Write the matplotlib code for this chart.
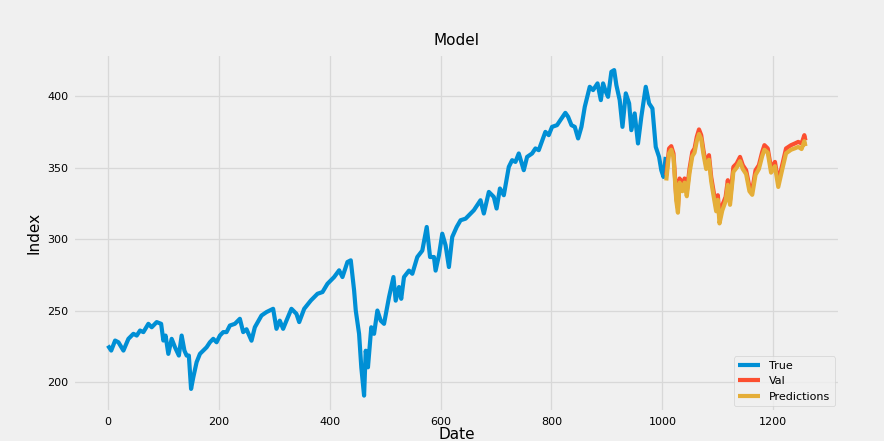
import matplotlib
matplotlib.use("Agg")
import matplotlib.pyplot as plt

plt.style.use("fivethirtyeight")

# True (training) series: index positions and values
train_x = [0, 6, 13, 19, 28, 37, 46, 52, 58, 64, 73, 79, 88, 96, 100, 104, 109, 115,
           121, 128, 133, 138, 142, 146, 150, 154, 160, 166, 172, 178, 184, 190, 196,
           202, 208, 214, 220, 229, 238,
           244, 250, 259, 265, 277, 286, 298, 304, 310, 316, 322, 331, 340, 345, 354,
           366, 378, 387, 396, 408, 417, 423, 432, 438, 444, 447, 453, 457, 462, 465,
           469, 475, 480, 486,
           492, 498, 507, 515, 519, 525, 529, 534, 543, 549, 558, 567, 575, 581, 588,
           591, 597, 603, 609, 615, 621, 629, 636, 645, 651, 660, 666, 672, 678, 687,
           696, 701, 707, 714, 723, 729, 735, 741,
           750, 756, 765, 771, 777, 789, 795, 801, 810, 816, 825, 830, 836, 842, 848,
           854, 860, 869, 875, 883, 889, 893, 898, 902, 908, 913, 917, 923, 928, 934,
           940, 944, 950, 956, 962, 970, 976, 982, 988, 994, 998, 1002, 1006]
train_y = [225.6, 222.1, 229.1, 227.9, 222.1, 230.3, 233.8, 232.6, 236.1, 235, 240.8,
           238.4, 242, 240.8, 229.1, 232.6, 219.8, 230.3, 224.4, 218.6, 232.6, 222.1,
           218.6, 218.6, 195.3, 203.4, 214, 219.8, 222.1, 224.4, 227.9, 230.3, 227.9,
           232.6, 235, 235, 239.6, 240.8, 244.3,
           235, 237, 229, 238.4, 246.6, 249, 251.3, 237.3, 243, 237.3, 243, 251.3,
           247.8, 242, 251.3, 257.1, 261.8, 263, 268.8, 273.5, 278.2, 273.5, 284,
           285.2, 264.2, 250.1, 233.8, 210.4, 190.6, 222, 210.4, 238.4, 233.8, 250.1,
           243, 240.8, 259.5, 273.5, 257, 266.5, 258.3, 273.5, 278, 275.8, 287.5, 292,
           308.5, 287.5, 287.5, 278, 288.7, 303.8, 295.7, 280.5, 301.5, 308.5, 313.2,
           314.3, 316.7, 320.2, 323.7, 327.2, 317.9, 333, 329.5, 321.4, 335.4, 330.7,
           350.5, 355.2, 354, 359.9,
           348.2, 357.5, 359.9, 363.4, 362.2, 375, 372.7, 378.5, 379.7, 383.2, 388.3,
           385.5, 379.7, 378.5, 370.4, 378.5, 392.5, 406.5, 404.2, 408.9, 397.2, 408.9,
           403, 399.5, 417, 418.2, 407.7, 397.2, 378.5, 401.9, 394.9, 376.2, 387.9,
           366.9, 385.5, 406.5, 394.9, 391.4, 364.5, 357.5, 348.2, 343.5, 357.5]

# Validation (actual) series
val_x = [1007, 1012, 1016, 1020, 1025, 1028, 1031, 1036, 1040, 1044, 1049, 1054, 1058,
         1062, 1066, 1070, 1074, 1079, 1084, 1088, 1092, 1097, 1100, 1103, 1108, 1114,
         1118, 1122, 1128, 1134, 1140, 1145, 1151, 1157, 1162, 1168, 1174, 1180, 1184,
         1190, 1196, 1203, 1209, 1216, 1223, 1232, 1239, 1245, 1251, 1256, 1258]
val_y = [344.7, 363.4, 365, 359.9, 329.5, 322, 342.4, 336.5, 342.4, 333, 349.4, 361,
         363.4, 371.5, 376.7, 372.7, 362.2, 351.7, 358.7, 343.5, 334.2, 322.5, 330.7,
         315.5, 323.7, 329.5, 341.2, 327.2, 350.5, 352.9, 357.5, 351.7, 348.2, 336.5,
         334.2, 348.2, 351.7, 361, 365.7, 363.4, 349.4, 354, 340, 351.7, 363.4, 365.7,
         366.9, 368, 366.9, 372.7, 369]

# Model predictions
pred_x = val_x
pred_y = [341, 360, 362.5, 357.5, 327, 318.5, 339.5, 333.5, 339.5, 330, 346.5, 358,
          360.5, 368.5, 373.5, 370, 359.5, 349, 355.5, 340.5, 331, 319.5, 327.5, 311,
          320, 326.5, 338, 324, 347, 350, 354.5, 349, 345.5, 333.5, 331, 345, 349,
          358, 362.5, 360.5, 346.5, 351, 336.5, 348.5, 360, 362.5, 363.5, 364.5,
          363, 368.5, 365]

fig = plt.figure(figsize=(8.84, 4.41), dpi=100)
ax = fig.add_axes([0.0826, 0.066, 0.868, 0.812])

ax.plot(train_x, train_y, color="#008fd5", lw=3, label="True")
ax.plot(val_x, val_y, color="#fc4f30", lw=3, label="Val")
ax.plot(pred_x, pred_y, color="#e5ae38", lw=3, label="Predictions")

ax.grid(True, color="#d8d8d8", linewidth=0.9)
ax.set_title("Model", fontsize=11)
ax.set_xlabel("Date", fontsize=11, labelpad=0)
ax.set_ylabel("Index", fontsize=11)
ax.tick_params(labelsize=8)
ax.legend(loc="lower right", fontsize=8)

fig.savefig("out.png", dpi=100)
